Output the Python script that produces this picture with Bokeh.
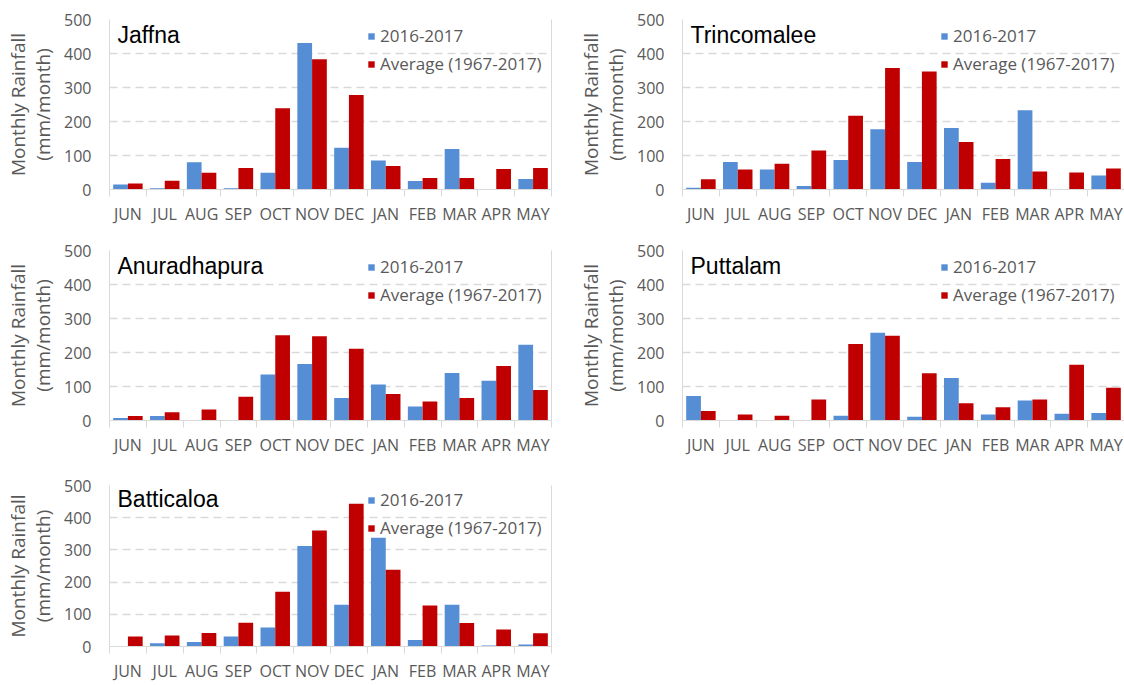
from bokeh.plotting import figure
from bokeh.models import (Range1d, FixedTicker, CustomJSTickFormatter, Legend, LegendItem,
                          Label, LinearAxis, ColumnDataSource)
from bokeh.transform import dodge
from bokeh.layouts import column, row
from bokeh.embed import file_html
from bokeh.resources import INLINE
import numpy as np

months = ["JUN", "JUL", "AUG", "SEP", "OCT", "NOV", "DEC", "JAN", "FEB", "MAR", "APR", "MAY"]
series_names = ["2016-2017", "Average (1967-2017)"]
y_ticks = [0, 100, 200, 300, 400, 500]

jaffna_2016 = [15, 4, 80, 4, 49, 431, 123, 85, 25, 119, 0, 31]
jaffna_avg = [18, 26, 49, 63, 239, 383, 278, 69, 34, 34, 60, 63]
trinco_2016 = [5, 81, 59, 10, 87, 177, 81, 181, 20, 233, 0, 41]
trinco_avg = [30, 59, 76, 115, 217, 357, 347, 140, 90, 53, 50, 62]
anura_2016 = [7, 13, 0, 0, 135, 166, 66, 106, 41, 140, 117, 223]
anura_avg = [13, 24, 32, 70, 251, 248, 211, 78, 56, 66, 160, 90]
puttalam_2016 = [72, 0, 0, 0, 14, 258, 11, 125, 18, 59, 20, 22]
puttalam_avg = [28, 18, 14, 62, 225, 249, 139, 51, 39, 62, 164, 96]
batti_2016 = [0, 10, 14, 31, 59, 312, 130, 338, 20, 130, 3, 6]
batti_avg = [31, 34, 42, 74, 170, 360, 443, 238, 127, 73, 53, 41]

BLUE = "#558ED5"
RED = "#C00000"
GRID = "#D9D9D9"
TXT = "#595959"
FONT = "Open Sans"


def make_panel(name, blue, red, width, height, bl, br, bt, bb, right_border=True):
    frame_h = height - bt - bb
    n = len(months)
    centers = list(np.arange(n) + 0.5)
    bounds = list(np.arange(n + 1).astype(float))
    p = figure(width=width, height=height, x_range=Range1d(0, n), y_range=Range1d(0, 500),
               output_backend="svg", toolbar_location=None,
               min_border_left=bl, min_border_right=br, min_border_top=bt, min_border_bottom=bb)
    p.outline_line_color = None
    p.background_fill_color = "white"
    p.border_fill_color = "white"

    src = ColumnDataSource(dict(x=centers, blue=blue, red=red))
    rb = p.vbar(x=dodge("x", -0.2, range=p.x_range), top="blue", width=0.4, source=src,
                fill_color=BLUE, line_color=None)
    rr = p.vbar(x=dodge("x", 0.2, range=p.x_range), top="red", width=0.4, source=src,
                fill_color=RED, line_color=None)

    # x axis
    xa = p.xaxis[0]
    xa.ticker = FixedTicker(ticks=centers, minor_ticks=bounds)
    xa.formatter = CustomJSTickFormatter(args=dict(labels=months),
                                         code="return labels[Math.round(tick - 0.5)];")
    xa.axis_line_color = GRID
    xa.major_tick_line_color = None
    xa.major_tick_out = 0
    xa.major_tick_in = 0
    xa.minor_tick_line_color = GRID
    xa.minor_tick_out = 7
    xa.minor_tick_in = 0
    xa.major_label_standoff = 6
    xa.major_label_text_font = FONT
    xa.major_label_text_font_size = "16px"
    xa.major_label_text_color = TXT
    p.xgrid.visible = False

    # y axis
    ya = p.yaxis[0]
    ya.ticker = FixedTicker(ticks=y_ticks)
    ya.axis_line_color = GRID
    ya.major_tick_line_color = None
    ya.minor_tick_line_color = None
    ya.major_tick_out = 0
    ya.major_tick_in = 0
    ya.major_label_standoff = 18
    ya.major_label_text_font = FONT
    ya.major_label_text_font_size = "16px"
    ya.major_label_text_color = TXT
    ya.axis_label = "Monthly Rainfall\n(mm/month)"
    ya.axis_label_text_font = FONT
    ya.axis_label_text_font_size = "19px"
    ya.axis_label_text_font_style = "normal"
    ya.axis_label_text_color = TXT
    ya.axis_label_standoff = 5
    ya.axis_label_text_line_height = 0.97
    p.ygrid.grid_line_color = GRID
    p.ygrid.grid_line_dash = "8 5"
    p.ygrid.grid_line_width = 1.5

    if right_border:
        ra = LinearAxis(ticker=FixedTicker(ticks=[]), axis_line_color=GRID,
                        major_tick_line_color=None, minor_tick_line_color=None,
                        major_label_text_font_size="0px", major_tick_out=0, major_tick_in=0)
        p.add_layout(ra, "right")

    legend = Legend(items=[LegendItem(label=series_names[0], renderers=[rb]),
                           LegendItem(label=series_names[1], renderers=[rr])],
                    location=(258, frame_h - 56),
                    glyph_width=8, glyph_height=8, label_height=20, spacing=5,
                    label_standoff=5, padding=0, margin=0,
                    label_text_font=FONT, label_text_font_size="17px",
                    label_text_color=TXT, background_fill_alpha=0,
                    border_line_color=None)
    p.add_layout(legend)

    p.add_layout(Label(x=8, y=frame_h - 15, x_units="screen", y_units="screen",
                       text=name, text_font="Liberation Sans", text_font_size="23px",
                       text_color="black", text_baseline="middle"))
    return p


f1 = make_panel("Jaffna", jaffna_2016, jaffna_avg, 570, 231, 109, 19, 19, 42)
f2 = make_panel("Trincomalee", trinco_2016, trinco_avg, 554, 231, 112, 0, 19, 42, right_border=False)
f3 = make_panel("Anuradhapura", anura_2016, anura_avg, 570, 235, 109, 19, 19, 46)
f4 = make_panel("Puttalam", puttalam_2016, puttalam_avg, 554, 235, 112, 0, 19, 46, right_border=False)
f5 = make_panel("Batticaloa", batti_2016, batti_avg, 570, 218, 109, 19, 19, 36)

layout = column(row(f1, f2), row(f3, f4), f5)

open("out.html", "w").write(file_html(layout, INLINE))
